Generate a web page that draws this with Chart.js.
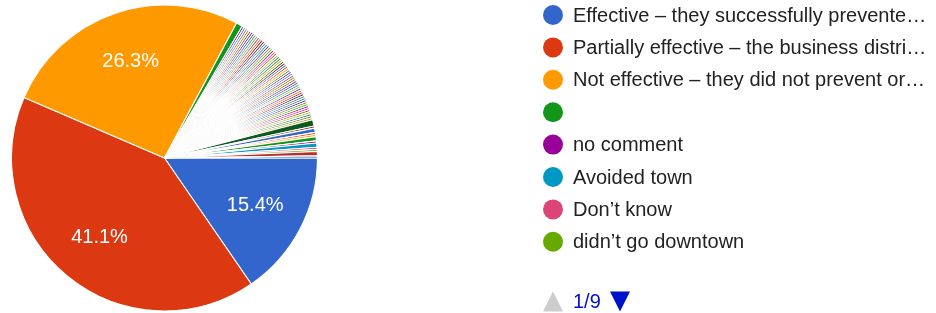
<!DOCTYPE html>
<html>
<head>
<meta charset="utf-8">
<script src="https://cdn.jsdelivr.net/npm/chart.js@4/dist/chart.umd.min.js"></script>
<style>
  html, body { margin: 0; padding: 0; background: #fff; }
  #wrap { width: 936px; height: 313px; }
</style>
</head>
<body>
<div id="wrap"><canvas id="c" width="936" height="313"></canvas></div>
<script>
// Legend labels visible on page 1 of the legend (as displayed)
const categories = [
  "Effective – they successfully prevente…",
  "Partially effective – the business distri…",
  "Not effective – they did not prevent or…",
  "",
  "no comment",
  "Avoided town",
  "Don’t know",
  "didn’t go downtown"
];

// Response counts per answer (72 answers; most are single write-ins)
const counts = [
  69, 184, 118, 3,
  1, 1, 1, 1, 1, 1, 1, 1,
  1, 1, 1, 1, 1, 1, 1, 1,
  1, 1, 1, 1, 1, 1, 1, 1,
  1, 1, 1, 1, 1, 1, 1, 1,
  1, 1, 1, 1, 1, 1, 1, 1,
  1, 1, 1, 1, 1, 1, 1, 1,
  1, 1, 1, 1, 1, 1, 1, 1,
  3,
  1, 2, 1, 1, 2, 1, 2, 1, 1, 2, 1
];

const legendPageSize = 8;
const legendPage = 1;

const palette = ["#3366cc","#dc3912","#ff9900","#109618","#990099","#0099c6","#dd4477","#66aa00",
  "#b82e2e","#316395","#994499","#22aa99","#aaaa11","#6633cc","#e67300","#8b0707","#651067",
  "#329262","#5574a6","#3b3eac","#b77322","#16d620","#b91383","#f4359e","#9c5935","#a9c413",
  "#2a778d","#668d1c","#bea413","#0c5922","#743411"];

const sliceColors = counts.map((_, i) => palette[i % palette.length]);
const total = counts.reduce((a, b) => a + b, 0);
const FONT = '"Liberation Sans", Arial, sans-serif';

const overlay = {
  id: 'overlay',
  afterDatasetsDraw(chart) {
    const ctx = chart.ctx;
    const meta = chart.getDatasetMeta(0);
    ctx.save();
    // slice percentage labels
    ctx.fillStyle = '#ffffff';
    ctx.font = '20px ' + FONT;
    ctx.textAlign = 'center';
    ctx.textBaseline = 'middle';
    meta.data.forEach((arc, i) => {
      const pct = counts[i] / total * 100;
      if (pct < 5) return;
      const p = arc.getProps(['x', 'y', 'startAngle', 'endAngle', 'outerRadius'], true);
      const mid = (p.startAngle + p.endAngle) / 2;
      const r = p.outerRadius * 0.67;
      ctx.fillText(pct.toFixed(1) + '%', p.x + Math.cos(mid) * r, p.y + Math.sin(mid) * r);
    });

    // legend (page 1)
    const lx = 553, ly0 = 15, step = 32.4, maxW = 360;
    ctx.textAlign = 'left';
    ctx.font = '20px ' + FONT;
    const start = (legendPage - 1) * legendPageSize;
    for (let k = 0; k < legendPageSize; k++) {
      const i = start + k;
      if (i >= counts.length) break;
      const y = ly0 + k * step;
      ctx.beginPath();
      ctx.arc(lx, y, 10, 0, Math.PI * 2);
      ctx.fillStyle = sliceColors[i];
      ctx.fill();
      let t = categories[i] || '';
      if (ctx.measureText(t).width > maxW) {
        while (t.length && ctx.measureText(t + '…').width > maxW) t = t.slice(0, -1);
        t += '…';
      }
      ctx.fillStyle = '#222222';
      ctx.fillText(t, 573, y + 1);
    }

    // pagination
    const pages = Math.ceil(counts.length / legendPageSize);
    const py = 301.5;
    ctx.fillStyle = '#cccccc';
    ctx.beginPath();
    ctx.moveTo(553, py - 10); ctx.lineTo(563, py + 10); ctx.lineTo(543, py + 10); ctx.closePath();
    ctx.fill();
    ctx.fillStyle = '#0011cc';
    ctx.fillText(legendPage + '/' + pages, 573, py + 1);
    ctx.beginPath();
    ctx.moveTo(610, py - 10); ctx.lineTo(630, py - 10); ctx.lineTo(620, py + 10); ctx.closePath();
    ctx.fill();
    ctx.restore();
  }
};

new Chart(document.getElementById('c'), {
  type: 'pie',
  data: {
    labels: counts.map((_, i) => categories[i] !== undefined ? categories[i] : ''),
    datasets: [{
      data: counts,
      backgroundColor: sliceColors,
      borderColor: '#ffffff',
      borderWidth: 1.1
    }]
  },
  options: {
    responsive: false,
    animation: false,
    rotation: 90,
    layout: { padding: { left: 11, top: 4, bottom: 1, right: 618 } },
    plugins: {
      legend: { display: false },
      tooltip: { enabled: false }
    }
  },
  plugins: [overlay]
});
</script>
</body>
</html>
